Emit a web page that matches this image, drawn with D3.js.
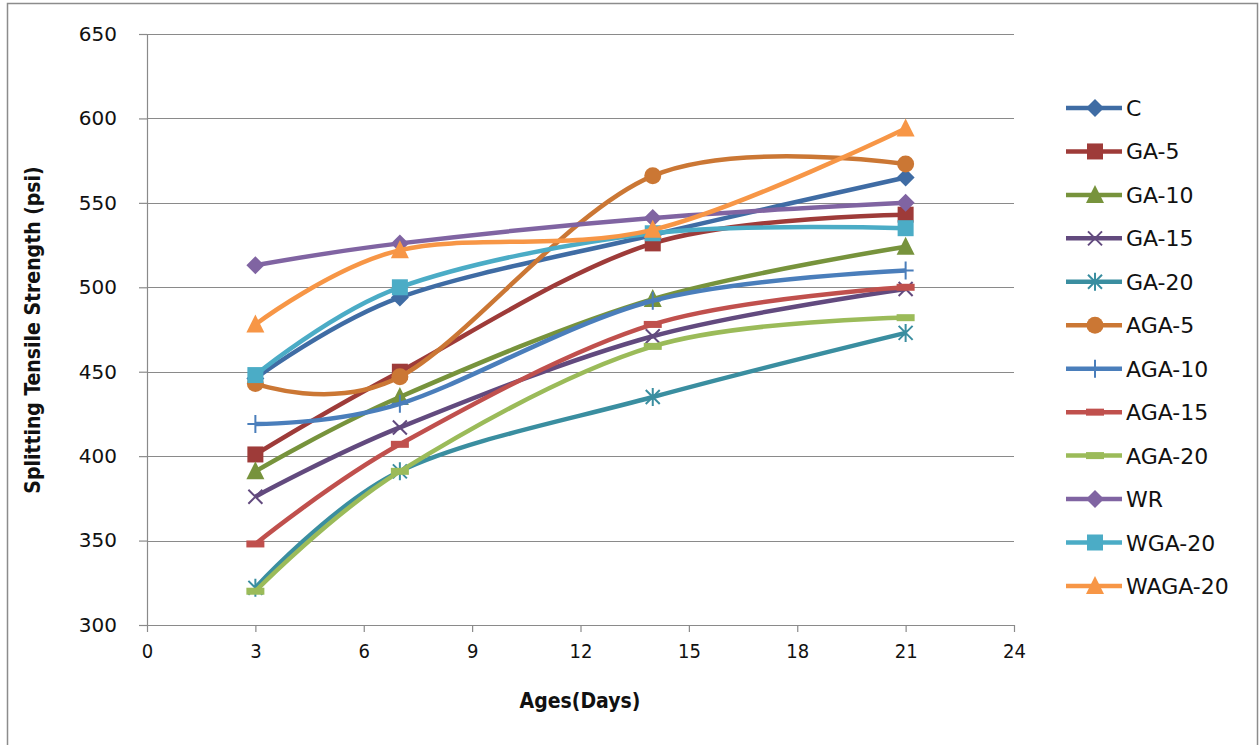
<!DOCTYPE html>
<html>
<head>
<meta charset="utf-8">
<script src="https://cdn.jsdelivr.net/npm/d3@7"></script>
<style>
  html, body { margin: 0; padding: 0; background: #fff; }
  svg { display: block; }
</style>
</head>
<body>
<svg id="chart" width="1260" height="745"></svg>
<script>
// Splitting tensile strength over curing age
const ages = [3, 7, 14, 21];
const seriesNames = ["C", "GA-5", "GA-10", "GA-15", "GA-20", "AGA-5", "AGA-10", "AGA-15", "AGA-20", "WR", "WGA-20", "WAGA-20"];
const valuesC      = [446, 494, 531, 565];
const valuesGA5    = [401, 450, 526, 543];
const valuesGA10   = [391, 435, 493, 524];
const valuesGA15   = [376, 417, 471, 499];
const valuesGA20   = [322, 391, 435, 473];
const valuesAGA5   = [443, 447, 566, 573];
const valuesAGA10  = [419, 431, 492, 510];
const valuesAGA15  = [348, 407, 478, 500];
const valuesAGA20  = [320, 391, 465, 482];
const valuesWR     = [513, 526, 541, 550];
const valuesWGA20  = [448, 500, 532, 535];
const valuesWAGA20 = [478, 522, 534, 594];
const xTicks = [0, 3, 6, 9, 12, 15, 18, 21, 24];
const yTicks = [300, 350, 400, 450, 500, 550, 600, 650];

const allValues = [valuesC, valuesGA5, valuesGA10, valuesGA15, valuesGA20, valuesAGA5,
                   valuesAGA10, valuesAGA15, valuesAGA20, valuesWR, valuesWGA20, valuesWAGA20];
const colors = ["#3F6CA4", "#9E3B39", "#77933C", "#624A7E", "#3A8EA0", "#CB7734",
                "#4A7EBB", "#C0504D", "#9BBB59", "#8064A2", "#4BACC6", "#F79646"];
const markers = ["diamond", "square", "triangle", "x", "star", "circle",
                 "plus", "dash", "dash", "diamond", "square", "triangle"];

const wideFont = "'DejaVu Sans', Verdana, sans-serif";
const narrowFont = "'DejaVu Sans Condensed', 'DejaVu Sans', sans-serif";

const svg = d3.select("#chart");

// outer frame
svg.append("rect").attr("x", 7.5).attr("y", 3.5).attr("width", 1250).attr("height", 745)
  .attr("fill", "none").attr("stroke", "#8c8c8c").attr("stroke-width", 1.5);

const x = d3.scaleLinear().domain([0, 24]).range([147, 1014]);
const y = d3.scaleLinear().domain([300, 650]).range([625, 34]);

// gridlines
svg.append("g").selectAll("line").data(yTicks.slice(1)).join("line")
  .attr("x1", x(0)).attr("x2", x(24))
  .attr("y1", d => Math.round(y(d)) + 0.5).attr("y2", d => Math.round(y(d)) + 0.5)
  .attr("stroke", "#8a8a8a").attr("stroke-width", 1.2);

// y axis
const yAxis = svg.append("g").attr("transform", `translate(${x(0)},0)`)
  .call(d3.axisLeft(y).tickValues(yTicks).tickSize(8).tickPadding(22).tickSizeOuter(0));
yAxis.select(".domain").attr("stroke", "#8a8a8a").attr("stroke-width", 1.2);
yAxis.selectAll(".tick line").attr("stroke", "#8a8a8a").attr("stroke-width", 1.2);
yAxis.selectAll(".tick text").attr("font-family", wideFont)
  .attr("font-size", 20).attr("fill", "#111");

// x axis
const xAxis = svg.append("g").attr("transform", `translate(0,${y(300)})`)
  .call(d3.axisBottom(x).tickValues(xTicks).tickSize(7).tickPadding(12).tickSizeOuter(0));
xAxis.select(".domain").attr("stroke", "#8a8a8a").attr("stroke-width", 1.2);
xAxis.selectAll(".tick line").attr("stroke", "#8a8a8a").attr("stroke-width", 1.2);
xAxis.selectAll(".tick text").attr("font-family", narrowFont)
  .attr("font-size", 20).attr("fill", "#111");

// axis titles
svg.append("text").attr("transform", "translate(40,330) rotate(-90)")
  .attr("text-anchor", "middle").attr("font-family", narrowFont)
  .attr("font-weight", "bold").attr("font-size", 21).attr("fill", "#111")
  .text("Splitting Tensile Strength (psi)");
svg.append("text").attr("x", 580).attr("y", 708)
  .attr("text-anchor", "middle").attr("font-family", narrowFont)
  .attr("font-weight", "bold").attr("font-size", 21).attr("fill", "#111")
  .text("Ages(Days)");

// marker drawing
function drawMarker(g, type, color, cx, cy) {
  const s = 8;
  if (type === "diamond") {
    g.append("path").attr("d", `M${cx},${cy - s - 1}L${cx + s + 1},${cy}L${cx},${cy + s + 1}L${cx - s - 1},${cy}Z`).attr("fill", color);
  } else if (type === "square") {
    g.append("rect").attr("x", cx - s).attr("y", cy - s).attr("width", 2 * s).attr("height", 2 * s).attr("fill", color);
  } else if (type === "triangle") {
    g.append("path").attr("d", `M${cx},${cy - s - 2}L${cx + s + 1},${cy + s}L${cx - s - 1},${cy + s}Z`).attr("fill", color);
  } else if (type === "circle") {
    g.append("circle").attr("cx", cx).attr("cy", cy).attr("r", s + 0.5).attr("fill", color);
  } else if (type === "x") {
    g.append("path").attr("d", `M${cx - 7},${cy - 7}L${cx + 7},${cy + 7}M${cx - 7},${cy + 7}L${cx + 7},${cy - 7}`)
      .attr("stroke", color).attr("stroke-width", 2).attr("fill", "none");
  } else if (type === "star") {
    g.append("path").attr("d", `M${cx - 7},${cy - 7}L${cx + 7},${cy + 7}M${cx - 7},${cy + 7}L${cx + 7},${cy - 7}M${cx},${cy - 9}L${cx},${cy + 9}`)
      .attr("stroke", color).attr("stroke-width", 2).attr("fill", "none");
  } else if (type === "plus") {
    g.append("path").attr("d", `M${cx - 8},${cy}L${cx + 8},${cy}M${cx},${cy - 9}L${cx},${cy + 9}`)
      .attr("stroke", color).attr("stroke-width", 2).attr("fill", "none");
  } else if (type === "dash") {
    g.append("rect").attr("x", cx - 9).attr("y", cy - 3.5).attr("width", 18).attr("height", 7).attr("fill", color);
  }
}

const line = d3.line().x(d => x(d[0])).y(d => y(d[1])).curve(d3.curveCardinal.tension(0));

const plot = svg.append("g");
allValues.forEach((vals, i) => {
  const pts = ages.map((a, j) => [a, vals[j]]);
  const g = plot.append("g");
  g.append("path").attr("d", line(pts)).attr("fill", "none")
    .attr("stroke", colors[i]).attr("stroke-width", 4.5).attr("stroke-linejoin", "round");
  pts.forEach(p => drawMarker(g, markers[i], colors[i], x(p[0]), y(p[1])));
});

// legend
const legend = svg.append("g");
seriesNames.forEach((name, i) => {
  const cy = 108 + i * 43.45;
  const g = legend.append("g");
  g.append("line").attr("x1", 1066).attr("x2", 1122).attr("y1", cy).attr("y2", cy)
    .attr("stroke", colors[i]).attr("stroke-width", 4.5);
  drawMarker(g, markers[i], colors[i], 1095, cy);
  g.append("text").attr("x", 1126).attr("y", cy + 8)
    .attr("font-family", wideFont).attr("font-size", 22).attr("fill", "#111")
    .text(name);
});
</script>
</body>
</html>
